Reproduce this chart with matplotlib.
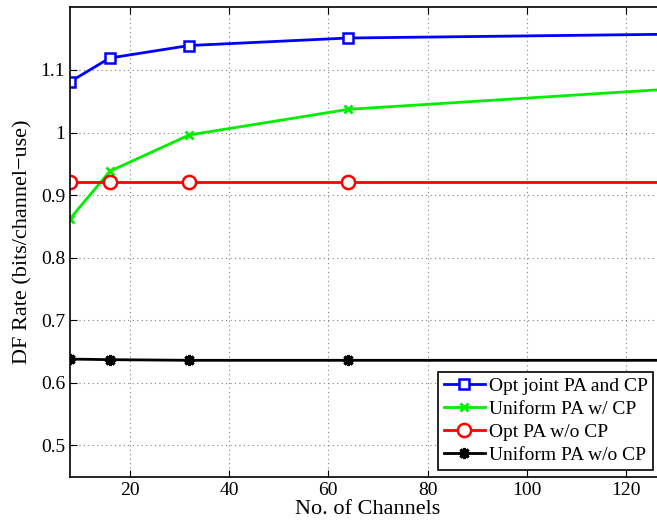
import matplotlib.pyplot as plt

plt.rcParams['font.family'] = ['Liberation Serif', 'DejaVu Serif']

# number of channels and DF rate for each scheme
channels = [8, 16, 32, 64, 128]
opt_joint = [1.081, 1.119, 1.139, 1.151, 1.157]
uniform_cp = [0.862, 0.938, 0.996, 1.037, 1.069]
opt_no_cp = [0.921, 0.921, 0.921, 0.921, 0.921]
uniform_no_cp = [0.638, 0.637, 0.636, 0.636, 0.636]

labels = ['Opt joint PA and CP', 'Uniform PA w/ CP', 'Opt PA w/o CP', 'Uniform PA w/o CP']

fig = plt.figure(figsize=(6.57, 5.25), dpi=100)
ax = fig.add_axes([0.1065, 0.092, 0.907, 0.894])

ax.plot(channels, opt_joint, '-s', color='blue', lw=2, ms=7.5, mfc='white', mew=1.8, label=labels[0])
ax.plot(channels, uniform_cp, '-x', color='#00ee00', lw=2, ms=6, mew=2, label=labels[1])
ax.plot(channels, opt_no_cp, '-o', color='red', lw=2, ms=9.5, mfc='white', mew=1.8, label=labels[2])
ax.plot(channels, uniform_no_cp, '-', marker=(8, 2, 0), color='black', lw=2, ms=8, mew=2.2, label=labels[3])

ax.set_xlim(8, 128)
ax.set_ylim(0.45, 1.2)
ax.set_xticks([20, 40, 60, 80, 100, 120])
ax.set_yticks([0.5, 0.6, 0.7, 0.8, 0.9, 1.0, 1.1])
ax.set_yticklabels(['0.5', '0.6', '0.7', '0.8', '0.9', '1', '1.1'])
ax.tick_params(direction='in', labelsize=14, length=5, top=True, right=True)
ax.grid(True, linestyle=(0, (1, 3)), color='gray', lw=0.8)
for s in ax.spines.values():
    s.set_linewidth(1.2)

ax.set_xlabel('No. of Channels', fontsize=16, labelpad=1)
ax.set_ylabel('DF Rate (bits/channel\u2212use)', fontsize=16, labelpad=6)

leg = ax.legend(loc='lower left', bbox_to_anchor=(0.618, 0.014), borderaxespad=0,
                fontsize=14, fancybox=False, edgecolor='black', framealpha=1,
                handlelength=2.1, handletextpad=0.2, labelspacing=0.28, borderpad=0.3)
leg.get_frame().set_linewidth(1.2)

fig.savefig('out.png', dpi=100)
